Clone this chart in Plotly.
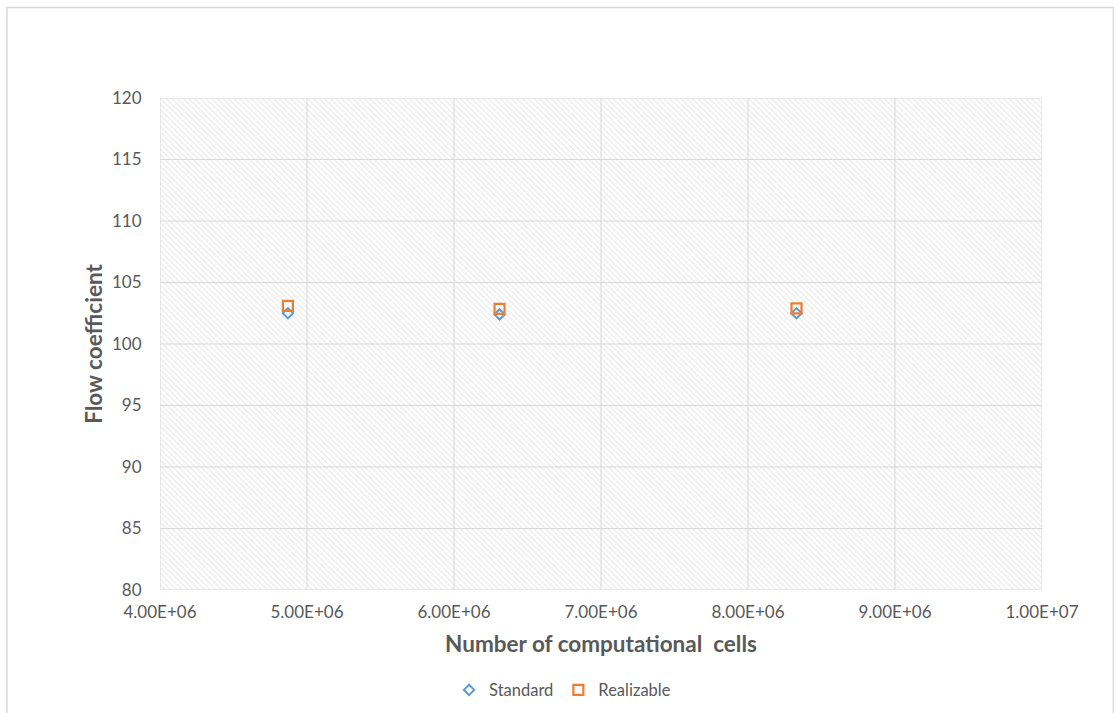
import plotly.graph_objects as go

# Mesh sizes and the resulting flow coefficient for the two k-epsilon variants
cells = [4.87e6, 6.31e6, 8.33e6]
standard = [102.5, 102.4, 102.5]
realizable = [103.1, 102.85, 102.9]

x_ticks = [4e6, 5e6, 6e6, 7e6, 8e6, 9e6, 1e7]
x_tick_text = ["4.00E+06", "5.00E+06", "6.00E+06", "7.00E+06",
               "8.00E+06", "9.00E+06", "1.00E+07"]
y_ticks = [80, 85, 90, 95, 100, 105, 110, 115, 120]

x_range = [x_ticks[0], x_ticks[-1]]
y_range = [y_ticks[0], y_ticks[-1]]

FONT = "Lato, 'Open Sans', sans-serif"
GREY_TEXT = "#595959"
GRID = "#d9d9d9"

fig = go.Figure()

# hatched plot-area background
fig.add_trace(go.Scatter(
    x=[x_range[0], x_range[1], x_range[1], x_range[0], x_range[0]],
    y=[y_range[0], y_range[0], y_range[1], y_range[1], y_range[0]],
    mode="lines", fill="toself", line=dict(width=0),
    fillcolor="white",
    fillpattern=dict(shape="\\", fgcolor="#cccccc", bgcolor="white",
                     size=4, solidity=0.28),
    hoverinfo="skip", showlegend=False,
))

# gridlines drawn on top of the hatch
gx, gy = [], []
for v in x_ticks:
    gx += [v, v, None]
    gy += [y_range[0], y_range[1], None]
for v in y_ticks:
    gx += [x_range[0], x_range[1], None]
    gy += [v, v, None]
fig.add_trace(go.Scatter(
    x=gx, y=gy, mode="lines", line=dict(color=GRID, width=1),
    hoverinfo="skip", showlegend=False,
))

fig.add_trace(go.Scatter(
    x=cells, y=standard, mode="markers", name="Standard",
    marker=dict(symbol="diamond-open", size=8, color="#5b9bd5",
                line=dict(width=2, color="#5b9bd5")),
))
fig.add_trace(go.Scatter(
    x=cells, y=realizable, mode="markers", name="Realizable",
    marker=dict(symbol="square-open", size=10, color="#ed7d31",
                line=dict(width=2.2, color="#ed7d31")),
))

fig.update_xaxes(
    range=x_range, tickmode="array", tickvals=x_ticks, ticktext=x_tick_text,
    showgrid=False, zeroline=False, showline=False,
    ticks="outside", ticklen=7, tickcolor="rgba(0,0,0,0)",
    tickfont=dict(family=FONT, size=17, color=GREY_TEXT),
    title=dict(text="<b>Number of computational  cells</b>",
               font=dict(family=FONT, size=22.5, color=GREY_TEXT), standoff=14),
)
fig.update_yaxes(
    range=y_range, tickmode="array", tickvals=y_ticks,
    showgrid=False, zeroline=False, showline=False,
    ticks="outside", ticklen=14, tickcolor="rgba(0,0,0,0)",
    tickfont=dict(family=FONT, size=17, color=GREY_TEXT),
    title=dict(text="<b>Flow coefficient</b>",
               font=dict(family=FONT, size=22.5, color=GREY_TEXT), standoff=3),
)

# light chart-area frame
fig.add_shape(type="rect", xref="paper", yref="paper",
              x0=-0.1735, x1=1.081, y0=-0.27, y1=1.184,
              line=dict(color="#d9d9d9", width=1.5), layer="below")

fig.update_layout(
    width=1114, height=713,
    margin=dict(l=160, r=72, t=98, b=123),
    paper_bgcolor="white", plot_bgcolor="white",
    font=dict(family=FONT, color=GREY_TEXT),
    legend=dict(orientation="h", xref="container", yref="container",
                x=0.505, xanchor="center", y=0.032, yanchor="middle",
                font=dict(family=FONT, size=16.5, color=GREY_TEXT),
                itemwidth=30, traceorder="normal"),
)

fig.write_html("out.html")
